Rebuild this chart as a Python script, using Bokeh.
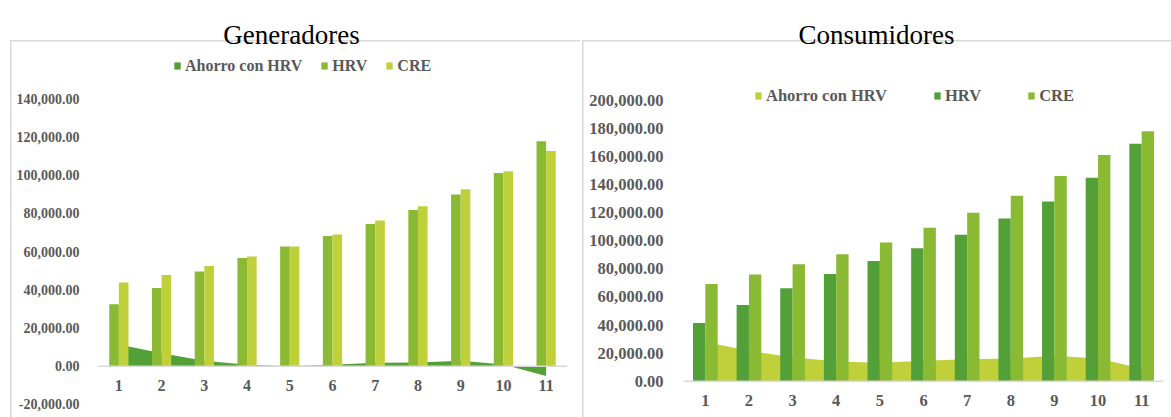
from bokeh.plotting import figure
from bokeh.layouts import row
from bokeh.models import (Range1d, FixedTicker, NumeralTickFormatter, Legend, LegendItem,
                          Label, Span)
from bokeh.embed import file_html
from bokeh.resources import INLINE
from bokeh.core.properties import value

# ---------------- data ----------------
periods = list(range(1, 12))
period_labels = [str(i) for i in periods]

gen_hrv = [32500, 41000, 49600, 56700, 62700, 68200, 74500, 81800, 89900, 101200, 117800]
gen_cre = [43800, 47800, 52500, 57400, 62700, 68900, 76300, 83800, 92700, 102100, 112700]
gen_ahorro = [11300, 6800, 2900, 700, 0, 700, 1800, 2000, 2800, 900, -5100]

con_hrv = [41400, 54300, 66200, 76400, 85700, 94800, 104300, 116000, 128100, 145000, 169100]
con_cre = [69300, 76000, 83300, 90500, 98800, 109300, 120000, 132100, 146200, 161200, 178100]
con_ahorro = [27900, 21700, 17100, 14100, 13100, 14500, 15700, 16100, 18100, 16200, 9000]

series_names = ["Ahorro con HRV", "HRV", "CRE"]
gen_ticks = [-20000, 0, 20000, 40000, 60000, 80000, 100000, 120000, 140000]
con_ticks = [0, 20000, 40000, 60000, 80000, 100000, 120000, 140000, 160000, 180000, 200000]

DARK = "#54A038"
MID = "#8AB934"
LIGHT = "#C0D03A"
TXT = "#595959"
GRID = "#d9d9d9"
SERIF = "Liberation Serif"
H = 417


def border_css(x0):
    g = "linear-gradient(%s,%s)" % (GRID, GRID)
    return {"background": "%s %dpx 40px / calc(100%% - %dpx) 1.5px no-repeat, "
                          "%s %dpx 40px / 1.5px calc(100%% - 40px) no-repeat, #ffffff"
                          % (g, x0, x0, g, x0)}


def make_panel(width, left, right, y_range, ticks, tick_size, standoff, css_x0):
    p = figure(width=width, height=H, x_range=Range1d(0.5, 11.5), y_range=y_range,
               output_backend="svg", toolbar_location=None,
               min_border_left=left, min_border_right=right, min_border_top=0, min_border_bottom=0,
               styles=border_css(css_x0))
    p.xgrid.visible = False
    p.ygrid.visible = False
    p.outline_line_color = None
    p.background_fill_color = None
    p.border_fill_color = None
    p.xaxis.visible = False
    p.yaxis.axis_line_color = None
    p.yaxis.major_tick_line_color = None
    p.yaxis.minor_tick_line_color = None
    p.yaxis.major_label_text_font = SERIF
    p.yaxis.major_label_text_font_style = "bold"
    p.yaxis.major_label_text_color = TXT
    p.yaxis.major_label_text_font_size = tick_size
    p.yaxis.major_label_standoff = standoff
    p.yaxis.formatter = NumeralTickFormatter(format="0,0.00")
    p.yaxis.ticker = FixedTicker(ticks=ticks)
    p.add_layout(Span(location=0, dimension="width", line_color=GRID, line_width=1.5))
    return p


def add_series(p, w, ahorro, hrv, cre, c_a, c_h, c_c):
    a = p.varea(x=periods, y1=[0] * len(periods), y2=ahorro, fill_color=c_a)
    b = p.vbar(x=[x - w / 2 for x in periods], top=hrv, width=w, fill_color=c_h, line_color=None)
    c = p.vbar(x=[x + w / 2 for x in periods], top=cre, width=w, fill_color=c_c, line_color=None)
    return a, b, c


def add_legend(p, rends, loc, spacing, size):
    leg = Legend(items=[LegendItem(label=n, renderers=[r]) for n, r in zip(series_names, rends)],
                 orientation="horizontal", location=loc, margin=0, padding=0,
                 spacing=spacing, glyph_width=8, glyph_height=9, label_standoff=4, label_height=18,
                 label_text_font=SERIF, label_text_font_style="bold", label_text_font_size=size,
                 label_text_color=TXT, border_line_color=None, background_fill_alpha=0)
    p.add_layout(leg, "center")


def add_xlabels(p, size, offset):
    p.text(x=periods, y=[0] * len(periods), text=period_labels, y_offset=offset,
           text_align="center", text_baseline="top", text_font=value(SERIF),
           text_font_style="bold", text_font_size=size, text_color=TXT)


# ---------------- left: Generadores ----------------
k1 = 140000 / (365.7 - 98.3)
p1 = make_panel(580, 97, 13, Range1d(-(H - 365.7) * k1, 365.7 * k1), gen_ticks, "14px", 12, 10)
r1 = add_series(p1, 0.225, gen_ahorro, gen_hrv, gen_cre, DARK, MID, LIGHT)
add_xlabels(p1, "16px", 14)
add_legend(p1, r1, (76, H - 74.7), 18, "16px")
p1.add_layout(Label(x=194, y=H - 34.3, x_units="screen", y_units="screen", text="Generadores",
                    text_align="center", text_baseline="alphabetic", text_font=SERIF,
                    text_font_size="27px", text_color="black"))

# ---------------- right: Consumidores ----------------
k2 = 200000 / (380.7 - 100.0)
p2 = make_panel(591, 103, 8, Range1d(-(H - 380.7) * k2, 380.7 * k2), con_ticks, "16.5px", 14, 2)
r2 = add_series(p2, 0.283, con_ahorro, con_hrv, con_cre, LIGHT, DARK, MID)
add_xlabels(p2, "16.5px", 14)
add_legend(p2, r2, (71, H - 105.7), 46, "16.5px")
p2.add_layout(Label(x=193, y=H - 34.3, x_units="screen", y_units="screen", text="Consumidores",
                    text_align="center", text_baseline="alphabetic", text_font=SERIF,
                    text_font_size="27px", text_color="black"))

layout = row(p1, p2)
open("out.html", "w").write(file_html(layout, INLINE))
